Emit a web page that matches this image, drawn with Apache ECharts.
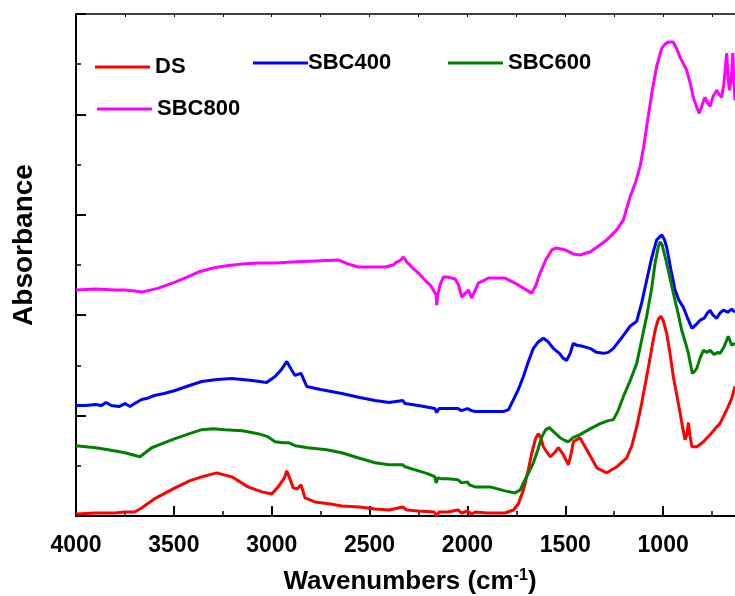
<!DOCTYPE html>
<html>
<head>
<meta charset="utf-8">
<script src="https://cdn.jsdelivr.net/npm/echarts@6/dist/echarts.min.js"></script>
<style>
html,body{margin:0;padding:0;background:#fff;}
#chart{width:735px;height:596px;}
</style>
</head>
<body>
<div id="chart"></div>
<script>
// ---- Data (wavenumber cm^-1, absorbance a.u.) ----
const seriesNames = ['DS', 'SBC400', 'SBC600', 'SBC800'];
const seriesColors = ['#ff0000', '#0000ff', '#008000', '#ff00ff'];

const dsWn  = [4000,3900,3800,3750,3700,3665,3600,3494,3420,3358,3281,3204,3121,3050,3000,2967,2935,2923,2905,2890,2870,2850,2830,2779,2700,2642,2550,2472,2400,2330,2310,2250,2170,2157,2145,2100,2048,2030,2000,1978,1960,1900,1808,1765,1740,1714,1690,1671,1650,1638,1625,1612,1578,1555,1535,1510,1484,1470,1459,1425,1390,1339,1288,1237,1186,1160,1135,1110,1084,1060,1041,1025,1012,1000,982,965,948,930,914,900,888,878,871,863,853,828,800,780,760,730,710,692,670,650,633];
const dsAbs = [0.02,0.03,0.03,0.04,0.04,0.08,0.17,0.28,0.35,0.39,0.43,0.39,0.29,0.24,0.22,0.29,0.38,0.45,0.36,0.28,0.27,0.31,0.18,0.14,0.12,0.10,0.09,0.07,0.06,0.09,0.06,0.05,0.04,0.00,0.04,0.04,0.06,0.03,0.05,0.02,0.04,0.03,0.03,0.06,0.12,0.26,0.45,0.63,0.78,0.82,0.78,0.69,0.59,0.63,0.68,0.61,0.51,0.62,0.74,0.78,0.66,0.48,0.43,0.49,0.58,0.70,0.89,1.12,1.39,1.65,1.85,1.96,1.99,1.95,1.82,1.62,1.39,1.20,1.03,0.88,0.76,0.82,0.93,0.80,0.69,0.69,0.73,0.77,0.81,0.88,0.92,0.99,1.08,1.17,1.29];

const s400Wn  = [4000,3950,3900,3870,3847,3820,3780,3750,3724,3700,3665,3640,3600,3550,3494,3420,3358,3280,3204,3100,3026,2983,2950,2923,2900,2881,2850,2821,2750,2642,2550,2472,2400,2330,2319,2250,2166,2157,2145,2100,2048,2030,2000,1978,1961,1884,1816,1790,1765,1740,1714,1690,1663,1640,1612,1590,1561,1530,1510,1493,1475,1459,1440,1410,1374,1340,1305,1280,1254,1210,1169,1135,1110,1084,1060,1033,1007,995,982,960,939,920,897,875,853,835,811,790,775,760,745,726,710,692,670,650,633];
const s400Abs = [1.10,1.10,1.11,1.10,1.13,1.10,1.09,1.12,1.09,1.12,1.16,1.17,1.20,1.22,1.25,1.30,1.34,1.36,1.37,1.35,1.33,1.39,1.46,1.54,1.46,1.40,1.42,1.29,1.26,1.22,1.18,1.15,1.13,1.15,1.12,1.10,1.07,1.03,1.07,1.07,1.07,1.05,1.07,1.05,1.04,1.04,1.04,1.06,1.16,1.26,1.39,1.53,1.67,1.73,1.77,1.74,1.67,1.62,1.57,1.55,1.62,1.72,1.70,1.69,1.67,1.63,1.62,1.63,1.67,1.78,1.89,1.94,2.12,2.35,2.56,2.75,2.80,2.76,2.68,2.45,2.25,2.15,2.08,1.97,1.87,1.90,1.95,1.97,2.02,2.05,2.00,1.97,2.02,2.05,2.03,2.06,2.03];

const s600Wn  = [4000,3900,3835,3750,3673,3640,3613,3560,3494,3420,3358,3300,3239,3150,3070,3020,2983,2940,2915,2880,2815,2720,2642,2560,2472,2400,2330,2319,2250,2200,2166,2160,2150,2131,2100,2048,2030,2000,1990,1961,1884,1808,1757,1730,1714,1690,1663,1640,1620,1600,1582,1560,1527,1500,1484,1460,1425,1380,1322,1280,1254,1230,1203,1170,1135,1110,1084,1060,1041,1025,1016,1005,982,965,948,925,905,885,871,851,840,828,810,794,775,760,740,720,709,690,667,650,633];
const s600Abs = [0.70,0.68,0.66,0.63,0.59,0.64,0.68,0.72,0.77,0.82,0.86,0.87,0.86,0.85,0.82,0.79,0.74,0.73,0.73,0.70,0.68,0.66,0.63,0.58,0.53,0.51,0.51,0.49,0.45,0.42,0.39,0.33,0.38,0.37,0.37,0.36,0.33,0.34,0.31,0.29,0.29,0.25,0.23,0.26,0.33,0.42,0.53,0.66,0.79,0.86,0.88,0.84,0.78,0.75,0.74,0.78,0.81,0.86,0.92,0.95,0.96,1.05,1.19,1.34,1.52,1.75,1.99,2.25,2.52,2.68,2.73,2.70,2.52,2.37,2.22,2.03,1.85,1.72,1.62,1.42,1.44,1.47,1.58,1.65,1.63,1.65,1.61,1.63,1.62,1.68,1.79,1.70,1.72];

const s800Wn  = [4000,3900,3800,3750,3700,3665,3620,3579,3494,3420,3375,3300,3239,3150,3070,2980,2898,2780,2660,2610,2557,2480,2421,2380,2361,2340,2327,2310,2285,2250,2217,2190,2174,2160,2157,2150,2140,2123,2100,2063,2045,2029,2010,1995,1985,1978,1960,1944,1893,1808,1757,1714,1671,1650,1629,1600,1569,1544,1500,1460,1425,1374,1330,1288,1237,1203,1169,1140,1118,1100,1084,1058,1033,1007,990,973,948,930,914,895,880,860,846,830,815,800,786,775,760,745,726,715,701,690,675,668,661,650,644,638,633];
const s800Abs = [2.25,2.26,2.25,2.25,2.24,2.23,2.25,2.27,2.33,2.39,2.43,2.47,2.49,2.51,2.52,2.52,2.53,2.54,2.55,2.51,2.48,2.48,2.48,2.50,2.53,2.55,2.58,2.53,2.48,2.42,2.35,2.30,2.25,2.20,2.10,2.22,2.30,2.38,2.38,2.36,2.30,2.18,2.22,2.25,2.24,2.17,2.25,2.32,2.37,2.37,2.32,2.27,2.22,2.30,2.42,2.55,2.65,2.67,2.65,2.61,2.60,2.63,2.69,2.75,2.85,2.95,3.18,3.33,3.48,3.67,3.88,4.21,4.48,4.66,4.70,4.72,4.72,4.65,4.57,4.50,4.44,4.30,4.17,4.08,4.01,4.10,4.17,4.12,4.08,4.18,4.24,4.20,4.17,4.30,4.61,4.35,4.24,4.40,4.61,4.30,4.14];

const xTickLabels = ['4000','3500','3000','2500','2000','1500','1000'];

const wnArrays  = [dsWn, s400Wn, s600Wn, s800Wn];
const absArrays = [dsAbs, s400Abs, s600Abs, s800Abs];

const FONT = "'Liberation Sans', Arial, Helvetica, sans-serif";

const chart = echarts.init(document.getElementById('chart'), null, {renderer: 'canvas'});

const series = seriesNames.map((n, i) => ({
  name: n,
  type: 'line',
  xAxisIndex: 0,
  yAxisIndex: 0,
  showSymbol: false,
  symbol: 'none',
  clip: true,
  data: wnArrays[i].map((w, k) => [w, absArrays[i][k]]),
  lineStyle: {color: seriesColors[i], width: 3},
  itemStyle: {color: seriesColors[i]},
  z: 3 + i
}));

const legendPos = [
  {left: 95, top: 56, pad: [0,0,0,0]},
  {left: 253, top: 52, pad: [0,0,0,-5]},
  {left: 448, top: 52, pad: [0,0,0,0]},
  {left: 97, top: 98, pad: [0,0,0,0]}
];

const legends = seriesNames.map((n, i) => ({
  data: [n],
  left: legendPos[i].left,
  top: legendPos[i].top,
  padding: 0,
  icon: 'rect',
  itemWidth: 55,
  itemHeight: 3,
  selectedMode: false,
  textStyle: {fontFamily: FONT, fontSize: 22, fontWeight: 'bold', color: '#000', lineHeight: 22, padding: legendPos[i].pad}
}));

const option = {
  animation: false,
  backgroundColor: '#fff',
  legend: legends,
  grid: {left: 76, right: -26, top: 14, bottom: 80, containLabel: false, outerBoundsMode: 'none'},
  xAxis: [
    {
      type: 'value', inverse: true, min: 500, max: 4000, interval: 500,
      position: 'bottom',
      name: '{a|Wavenumbers (cm}{s|-1}{a|)}',
      nameLocation: 'middle', nameGap: 52,
      nameTextStyle: {
        padding: [0, 17, 0, 0],
        rich: {
          a: {fontFamily: FONT, fontSize: 26, fontWeight: 'bold', color: '#000', lineHeight: 28},
          s: {fontFamily: FONT, fontSize: 16, fontWeight: 'bold', color: '#000', verticalAlign: 'top', lineHeight: 28, padding: [0, 0, 0, 0]}
        }
      },
      axisLine: {show: true, onZero: false, lineStyle: {color: '#000', width: 2}},
      axisTick: {show: true, inside: true, length: 10, lineStyle: {color: '#000', width: 2}},
      minorTick: {show: true, splitNumber: 2, length: 5, lineStyle: {color: '#000', width: 1.5}},
      axisLabel: {
        show: true, margin: 18, color: '#000', fontFamily: FONT, fontSize: 23, fontWeight: 'bold',
        showMinLabel: true, showMaxLabel: true,
        formatter: v => xTickLabels.includes(String(v)) ? String(v) : ''
      },
      splitLine: {show: false}
    },
    {
      type: 'value', inverse: true, min: 500, max: 4000, interval: 250,
      position: 'top',
      axisLine: {show: true, onZero: false, lineStyle: {color: '#000', width: 1.5}},
      axisTick: {show: true, inside: true, length: 3, lineStyle: {color: '#000', width: 1}},
      axisLabel: {show: false},
      splitLine: {show: false}
    }
  ],
  yAxis: [{
    type: 'value', min: 0, max: 5, interval: 1,
    name: 'Absorbance', nameLocation: 'middle', nameGap: 38, nameRotate: 90,
    nameTextStyle: {fontFamily: FONT, fontSize: 28, fontWeight: 'bold', color: '#000', padding: [0, 0, 0, 40]},
    axisLine: {show: true, lineStyle: {color: '#000', width: 2}},
    axisTick: {show: true, inside: true, length: 10, lineStyle: {color: '#000', width: 2}},
    minorTick: {show: true, splitNumber: 2, length: 5, lineStyle: {color: '#000', width: 1.5}},
    axisLabel: {show: false},
    splitLine: {show: false}
  }],
  series: series
};

chart.setOption(option);
</script>
</body>
</html>
